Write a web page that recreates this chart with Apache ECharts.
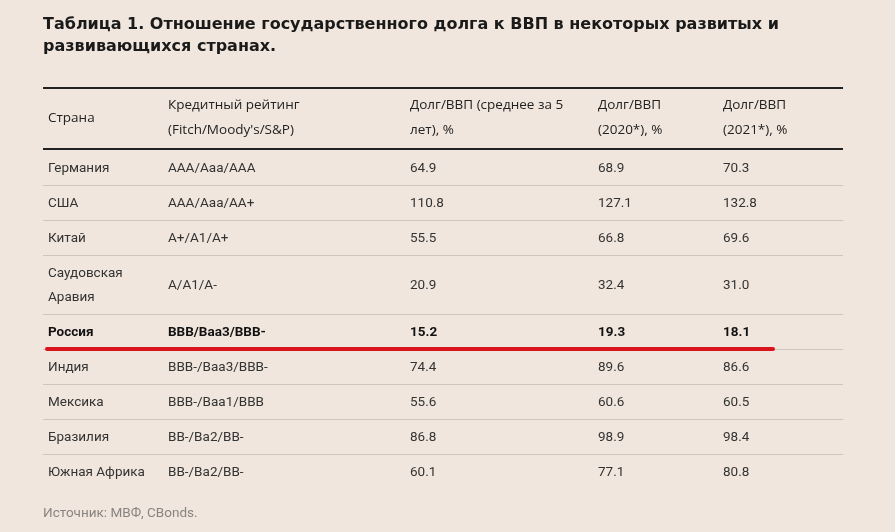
<!DOCTYPE html>
<html><head><meta charset="utf-8">
<script src="https://cdn.jsdelivr.net/npm/echarts@6/dist/echarts.min.js"></script>
<style>html,body{margin:0;padding:0;background:#f0e6dd}#c{width:895px;height:532px}</style>
</head><body><div id="c"></div>
<script>
var titleLines = ['Таблица 1. Отношение государственного долга к ВВП в некоторых развитых и', 'развивающихся странах.'];
var headers = [['Страна'], ['Кредитный рейтинг', '(Fitch/Moody\'s/S&P)'], ['Долг/ВВП (среднее за 5', 'лет), %'], ['Долг/ВВП', '(2020*), %'], ['Долг/ВВП', '(2021*), %']];
var countries = [['Германия'], ['США'], ['Китай'], ['Саудовская', 'Аравия'], ['Россия'], ['Индия'], ['Мексика'], ['Бразилия'], ['Южная Африка']];
var ratings = ['AAA/Aaa/AAA', 'AAA/Aaa/AA+', 'A+/A1/A+', 'A/A1/A-', 'BBB/Baa3/BBB-', 'BBB-/Baa3/BBB-', 'BBB-/Baa1/BBB', 'BB-/Ba2/BB-', 'BB-/Ba2/BB-'];
var avg5 = ['64.9', '110.8', '55.5', '20.9', '15.2', '74.4', '55.6', '86.8', '60.1'];
var y2020 = ['68.9', '127.1', '66.8', '32.4', '19.3', '89.6', '60.6', '98.9', '77.1'];
var y2021 = ['70.3', '132.8', '69.6', '31.0', '18.1', '86.6', '60.5', '98.4', '80.8'];
var highlightRow = 4;
var source = 'Источник: МВФ, CBonds.';

var colX = [48, 168, 410, 598, 723];
var L = 43, R = 843;
var g = [];
g.push({type:'rect', shape:{x:0,y:0,width:895,height:532}, style:{fill:'#f0e6dd'}, z:-1});
titleLines.forEach(function(t,i){
  g.push({type:'text', x:43, y:25+i*22, style:{text:t, fill:'#1a1a1a', font:'bold 16px "DejaVu Sans", sans-serif', verticalAlign:'middle'}});
});
g.push({type:'rect', shape:{x:L,y:87,width:R-L,height:2}, style:{fill:'#222'}});
g.push({type:'rect', shape:{x:L,y:148,width:R-L,height:2}, style:{fill:'#222'}});
headers.forEach(function(h,c){
  h.forEach(function(t,i){
    var y = h.length===1 ? 118 : 105 + i*25;
    g.push({type:'text', x:colX[c], y:y, style:{text:t, fill:'#222', font:'13.5px "Open Sans", sans-serif', verticalAlign:'middle'}});
  });
});
var y = 150;
countries.forEach(function(cn,r){
  var h = cn.length>1 ? 59 : 35;
  var mid = y + h/2 + 1;
  var bold = r===highlightRow;
  var font = (bold?'bold ':'') + '13.5px Roboto, sans-serif';
  var col = bold ? '#111' : '#333';
  cn.forEach(function(t,i){
    g.push({type:'text', x:colX[0], y: cn.length>1 ? mid-12+i*24 : mid, style:{text:t, fill:col, font:font, verticalAlign:'middle'}});
  });
  [ratings[r], avg5[r], y2020[r], y2021[r]].forEach(function(t,c){
    g.push({type:'text', x:colX[c+1], y:mid, style:{text:t, fill:col, font:font, verticalAlign:'middle'}});
  });
  y += h;
  if (r < countries.length-1) g.push({type:'rect', shape:{x:L,y:y,width:R-L,height:1}, style:{fill:'#cfc6be'}});
  if (bold) g.push({type:'line', shape:{x1:47,y1:y,x2:773,y2:y}, style:{stroke:'#d9141c', lineWidth:4, lineCap:'round'}, z:10});
});
g.push({type:'text', x:43, y:514, style:{text:source, fill:'#8a8480', font:'13.5px Roboto, sans-serif', verticalAlign:'middle'}});

var chart = echarts.init(document.getElementById('c'));
chart.setOption({backgroundColor:'#f0e6dd', graphic:g});
</script></body></html>
